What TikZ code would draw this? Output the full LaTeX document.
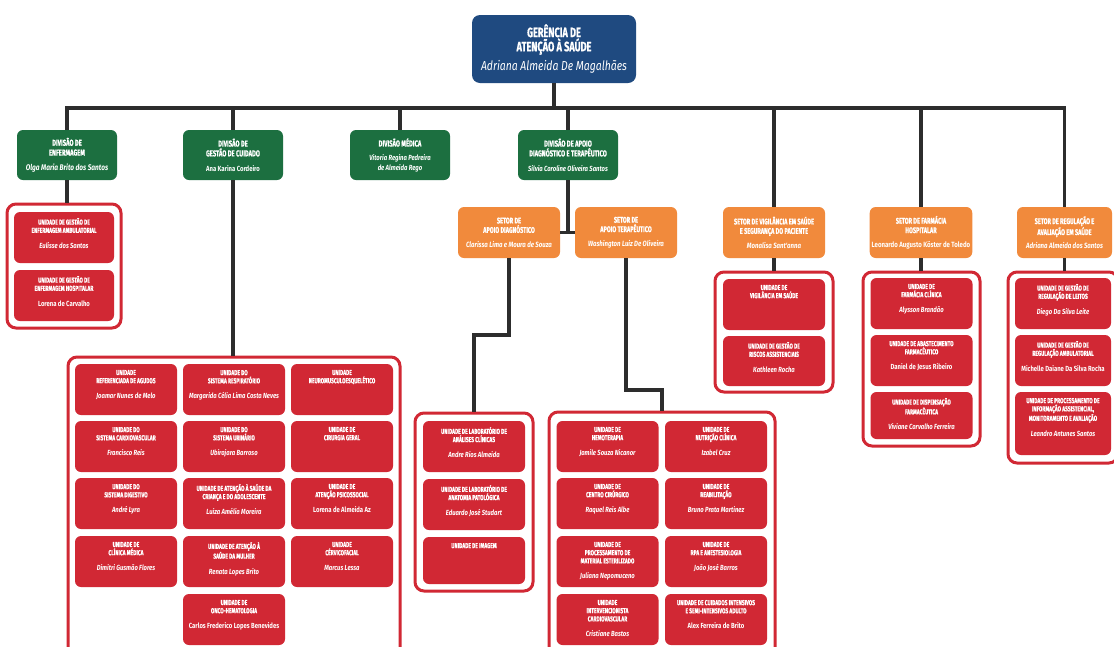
\documentclass[tikz,border=0pt]{standalone}
\usepackage{fontspec}
\setmainfont{Fira Sans}
\newfontfamily\condfont{Fira Sans}[FakeStretch=0.68,BoldFeatures={FakeBold=0.8}]
\newfontfamily\namefont{Fira Sans}[FakeStretch=0.8]
\usepackage{tikz}

\definecolor{gerblue}{RGB}{31,74,128}
\definecolor{divgreen}{RGB}{28,111,64}
\definecolor{setorange}{RGB}{241,138,60}
\definecolor{unitred}{RGB}{209,40,52}
\definecolor{linegray}{RGB}{45,45,45}

\newcommand{\gtfont}{\condfont\bfseries\fontsize{13.5}{15}\selectfont}
\newcommand{\gnfont}{\namefont\itshape\fontsize{13}{14}\selectfont}
\newcommand{\dtfont}{\condfont\bfseries\fontsize{8.6}{9.8}\selectfont}
\newcommand{\dnfont}{\namefont\itshape\fontsize{7.4}{8.8}\selectfont}
\newcommand{\stfont}{\condfont\bfseries\fontsize{8.2}{9.4}\selectfont}
\newcommand{\snfont}{\namefont\itshape\fontsize{7.6}{8.8}\selectfont}
\newcommand{\utfont}{\condfont\bfseries\fontsize{7.2}{8.2}\selectfont}
\newcommand{\unfont}{\namefont\itshape\fontsize{7.4}{8.5}\selectfont}
\newcommand{\unitxt}[3]{\parbox[c][#1pt][t]{92pt}{\centering\utfont #2\par\vspace{7pt}\unfont #3\par}}

\begin{document}
\begin{tikzpicture}[x=1pt,y=-1pt,
  conn/.style={draw=linegray,line width=3.5pt},
  gerbox/.style={fill=gerblue,rounded corners=8pt,text=white,align=center,minimum width=164pt,minimum height=68pt},
  divbox/.style={fill=divgreen,rounded corners=6pt,text=white,align=center,font=\dtfont,minimum width=100pt,minimum height=50pt,inner sep=2pt},
  setbox/.style={fill=setorange,rounded corners=6pt,text=white,align=center,font=\stfont,minimum width=#1,minimum height=51pt,inner sep=2pt},
  setbox/.default=102pt,
  grpbox/.style={draw=unitred,line width=3pt,fill=white,rounded corners=9pt},
  unitbox/.style={fill=unitred,rounded corners=6pt,text=white,minimum width=#1,inner xsep=2pt,inner ysep=6pt},
  unitbox/.default=102pt]
\path[use as bounding box,fill=white] (0,0) rectangle (1114,646);

% gerencia
\node[gerbox] (ger) at (554,49) {{\gtfont GERÊNCIA DE}\\{\gtfont ATENÇÃO À SAÚDE}\\[5pt]{\gnfont Adriana Almeida De Magalhães}};

% divisoes
\node[divbox] (divenf) at (67,155) {DIVISÃO DE\\ENFERMAGEM\\[5pt]{\dnfont\fontsize{8.2}{9}\selectfont Olga Maria Brito dos Santos}};
\node[divbox] (divcui) at (233,155) {DIVISÃO DE\\GESTÃO DE CUIDADO\\[5pt]{\dnfont\upshape Ana Karina Cordeiro}};
\node[divbox] (divmed) at (400,155) {DIVISÃO MÉDICA\\[4pt]{\dnfont Vitoria Regina Pedreira}\\{\dnfont de Almeida Rego}};
\node[divbox] (divapo) at (568,155) {DIVISÃO DE APOIO\\DIAGNÓSTICO E TERAPÊUTICO\\[5pt]{\dnfont Silvia Caroline Oliveira Santos}};

% setores
\node[setbox] (setdia) at (509,232.5) {SETOR DE\\APOIO DIAGNÓSTICO\\[5pt]{\snfont Clarissa Lima e Moura de Souza}};
\node[setbox] (setter) at (626,232.5) {SETOR DE\\APOIO TERAPÊUTICO\\[5pt]{\snfont Washington Luiz De Oliveira}};
\node[setbox] (setvig) at (774,232.5) {SETOR DE VIGILÂNCIA EM SAÚDE\\E SEGURANÇA DO PACIENTE\\[5pt]{\snfont Monalisa Sant'anna}};
\node[setbox] (setfar) at (921,232.5) {SETOR DE FARMÁCIA\\HOSPITALAR\\[5pt]{\snfont\upshape Leonardo Augusto Köster de Toledo}};
\node[setbox=95pt] (setreg) at (1064.5,232.5) {SETOR DE REGULAÇÃO E\\AVALIAÇÃO EM SAÚDE\\[4pt]{\snfont Adriana Almeida dos Santos}};

% grupos de unidades
\node[grpbox,minimum width=114pt,minimum height=124pt] (grpenf) at (64,266) {};
\node[grpbox,minimum width=332pt,minimum height=303pt] (grpcui) at (234,508.5) {};
\node[grpbox,minimum width=118pt,minimum height=178pt] (grplab) at (474,502) {};
\node[grpbox,minimum width=226pt,minimum height=248pt] (grpter) at (662,536) {};
\node[grpbox,minimum width=118pt,minimum height=120pt] (grpvig) at (774,332) {};
\node[grpbox,minimum width=117pt,minimum height=174pt] (grpfar) at (921.5,359) {};
\node[grpbox,minimum width=110pt,minimum height=191pt] (grpreg) at (1063,367.5) {};

% unidades
\foreach \n/\x/\y/\h/\ti/\pe in {
  ue1/64/237.5/39/{UNIDADE DE GESTÃO DE\\ENFERMAGEM AMBULATORIAL}/{Eulisse dos Santos},
  ue2/64/295.5/39/{UNIDADE DE GESTÃO DE\\ENFERMAGEM HOSPITALAR}/{\upshape Lorena de Carvalho}}{
  \node[unitbox=100pt] (\n) at (\x,\y) {\unitxt{\h}{\ti}{\pe}};
}
\foreach \n/\x/\y/\h/\ti/\pe in {
  uc1/126/389.5/39/{UNIDADE\\REFERENCIADA DE AGUDOS}/{Joamar Nunes de Melo},
  uc2/126/446.5/39/{UNIDADE DO\\SISTEMA CARDIOVASCULAR}/{Francisco Reis},
  uc3/126/503.5/39/{UNIDADE DO\\SISTEMA DIGESTIVO}/{André Lyra},
  uc4/126/561.5/39/{UNIDADE DE\\CLÍNICA MÉDICA}/{Dimitri Gusmão Flores},
  uc5/234/389.5/39/{UNIDADE DO\\SISTEMA RESPIRATÓRIO}/{Margarida Célia Lima Costa Neves},
  uc6/234/446.5/39/{UNIDADE DO\\SISTEMA URINÁRIO}/{Ubirajara Barroso},
  uc7/234/503.5/39/{UNIDADE DE ATENÇÃO À SAÚDE DA\\CRIANÇA E DO ADOLESCENTE}/{Luiza Amélia Moreira},
  uc8/234/561.5/39/{UNIDADE DE ATENÇÃO À\\SAÚDE DA MULHER}/{Renata Lopes Brito},
  uc9/234/619.5/39/{UNIDADE DE\\ONCO-HEMATOLOGIA}/{\upshape Carlos Frederico Lopes Benevides},
  uc10/342/389.5/39/{UNIDADE\\NEUROMUSCULOESQUELÉTICO}/{},
  uc11/342/446.5/39/{UNIDADE DE\\CIRURGIA GERAL}/{},
  uc12/342/503.5/39/{UNIDADE DE\\ATENÇÃO PSICOSSOCIAL}/{\upshape Lorena de Almeida Az},
  uc13/342/561.5/39/{UNIDADE\\CÉRVICOFACIAL}/{Marcus Lessa},
  ul1/474/446.5/39/{UNIDADE DE LABORATÓRIO DE\\ANÁLISES CLÍNICAS}/{Andre Rios Almeida},
  ul2/474/504.5/39/{UNIDADE DE LABORATÓRIO DE\\ANATOMIA PATOLÓGICA}/{Eduardo José Studart},
  ul3/474/560.5/35/{UNIDADE DE IMAGEM}/{},
  ut1/607.5/446.5/39/{UNIDADE DE\\HEMOTERAPIA}/{Jamile Souza Nicanor},
  ut2/607.5/503.5/39/{UNIDADE DE\\CENTRO CIRÚRGICO}/{Raquel Reis Albe},
  ut3/607.5/561.5/39/{UNIDADE DE\\PROCESSAMENTO DE\\MATERIAL ESTERILIZADO}/{Juliana Nepomuceno},
  ut4/607.5/619.5/39/{UNIDADE\\INTERVENCIONISTA\\CARDIOVASCULAR}/{Cristiane Bastos},
  ut5/716/446.5/39/{UNIDADE DE\\NUTRIÇÃO CLÍNICA}/{Izabel Cruz},
  ut6/716/503.5/39/{UNIDADE DE\\REABILITAÇÃO}/{Bruno Prata Martinez},
  ut7/716/561.5/39/{UNIDADE DE\\RPA E ANESTESIOLOGIA}/{João José Barros},
  ut8/716/619.5/39/{UNIDADE DE CUIDADOS INTENSIVOS\\E SEMI-INTENSIVOS ADULTO}/{\upshape Alex Ferreira de Brito},
  uv1/774/304.5/39/{UNIDADE DE\\VIGILÂNCIA EM SAÚDE}/{},
  uv2/774/361/38/{UNIDADE DE GESTÃO DE\\RISCOS ASSISTENCIAIS}/{Kathleen Rocha},
  uf1/921.5/303.5/39/{UNIDADE DE\\FARMÁCIA CLÍNICA}/{Alysson Brandão},
  uf2/921.5/360.5/39/{UNIDADE DE ABASTECIMENTO\\FARMACÊUTICO}/{\upshape Daniel de Jesus Ribeiro},
  uf3/921.5/415.5/35/{UNIDADE DE DISPENSAÇÃO\\FARMACÊUTICA}/{Viviane Carvalho Ferreira}}{
  \node[unitbox] (\n) at (\x,\y) {\unitxt{\h}{\ti}{\pe}};
}
\foreach \n/\x/\y/\h/\ti/\pe in {
  ur1/1063/303.5/39/{UNIDADE DE GESTÃO DE\\REGULAÇÃO DE LEITOS}/{Diego Da Silva Leite},
  ur2/1063/360.5/39/{UNIDADE DE GESTÃO DE\\REGULAÇÃO AMBULATORIAL}/{\upshape Michelle Daiane Da Silva Rocha},
  ur3/1063/423.5/51/{UNIDADE DE PROCESSAMENTO DE\\INFORMAÇÃO ASSISTENCIAL,\\MONITORAMENTO E AVALIAÇÃO}/{Leandro Antunes Santos}}{
  \node[unitbox=96pt] (\n) at (\x,\y) {\unitxt{\h}{\ti}{\pe}};
}

% ligacoes
\coordinate (bus) at (554,108);
\coordinate (apj) at (568,232.5);
\draw[conn] (ger.south) -- (bus);
\foreach \c in {divenf,divcui,divmed,divapo,setvig,setfar,setreg}{\draw[conn] (\c.north) |- (bus);}
\draw[conn] (divapo.south) -- (apj);
\draw[conn] (setdia.east) -- (setter.west);
\draw[conn] (divenf.south) -- (divenf.south |- grpenf.north);
\draw[conn] (divcui.south) -- (divcui.south |- grpcui.north);
\draw[conn] (setdia.south) -- ++(0,77) -| (grplab.north);
\draw[conn] (setter.south) -- ++(0,132) -| (grpter.north);
\draw[conn] (setvig.south) -- (grpvig.north);
\draw[conn] (setfar.south) -- (setfar.south |- grpfar.north);
\draw[conn] (setreg.south) -- (setreg.south |- grpreg.north);
\end{tikzpicture}
\end{document}
